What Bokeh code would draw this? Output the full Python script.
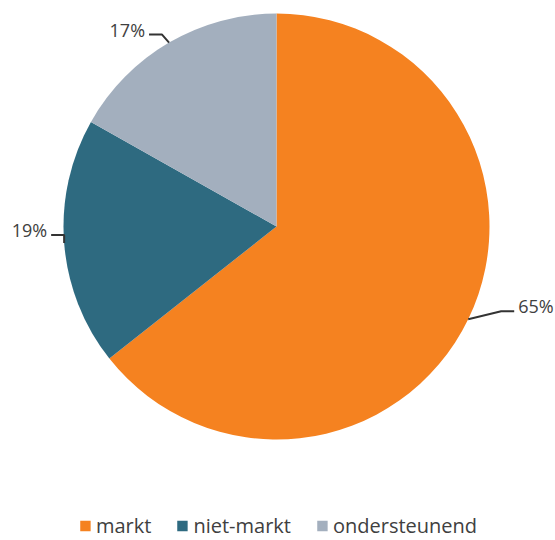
import math
from bokeh.plotting import figure
from bokeh.models import ColumnDataSource, Legend, LegendItem
from bokeh.core.properties import value
from bokeh.embed import file_html
from bokeh.resources import INLINE

categories = ["markt", "niet-markt", "ondersteunend"]
shares = [65, 19, 17]
labels = ["65%", "19%", "17%"]
colors = ["#F58220", "#2E6A80", "#A3AFBE"]

W, H = 555, 540
cx, cy, R = 276, 314, 213
FONT = "Open Sans"
TXT = "#404040"

p = figure(width=W, height=H, x_range=(0, W), y_range=(0, H),
           output_backend="svg", toolbar_location=None, min_border=0)
p.axis.visible = False
p.grid.visible = False
p.outline_line_color = None

total = sum(shares)
starts, ends, mids = [], [], []
cum = 0.0
for s in shares:
    a0 = math.pi / 2 - 2 * math.pi * cum / total
    cum += s
    a1 = math.pi / 2 - 2 * math.pi * cum / total
    starts.append(a1)
    ends.append(a0)
    mids.append((a0 + a1) / 2)

src = ColumnDataSource(dict(cat=categories, start=starts, end=ends, color=colors))
r = p.wedge(x=cx, y=cy, radius=R, start_angle="start", end_angle="end",
            direction="anticlock", fill_color="color", line_color="white",
            line_width=0, source=src)

# leader lines (style offsets)
elbow_dx = [33, 0, 7]
rise = 8
hlen = 13
lx, ly, tx, ty, align = [], [], [], [], []
for i, m in enumerate(mids):
    ex = cx + R * math.cos(m)
    ey = cy + R * math.sin(m)
    sgn = 1 if math.cos(m) >= 0 else -1
    bx = ex + sgn * elbow_dx[i]
    by = ey + rise
    hx = bx + sgn * hlen
    lx.append([ex, bx, hx])
    ly.append([ey, by, by])
    tx.append(hx + sgn * 4)
    ty.append(by + 5)
    align.append("left" if sgn > 0 else "right")

p.multi_line(xs=lx, ys=ly, line_color="#333333", line_width=2)
lsrc = ColumnDataSource(dict(x=tx, y=ty, t=labels, a=align))
p.text(x="x", y="y", text="t", text_align="a", text_baseline="middle",
       text_font=value(FONT), text_font_size="18px", text_color=TXT, source=lsrc)

items = [LegendItem(label=c, renderers=[r], index=i) for i, c in enumerate(categories)]
legend = Legend(items=items, orientation="horizontal", location="bottom_center",
                border_line_color=None, background_fill_alpha=0,
                label_text_font=FONT, label_text_font_size="20px",
                label_text_color=TXT, glyph_width=13, glyph_height=13,
                label_standoff=5, spacing=24, padding=0, margin=1)
p.add_layout(legend)

open("out.html", "w").write(file_html(p, INLINE))
